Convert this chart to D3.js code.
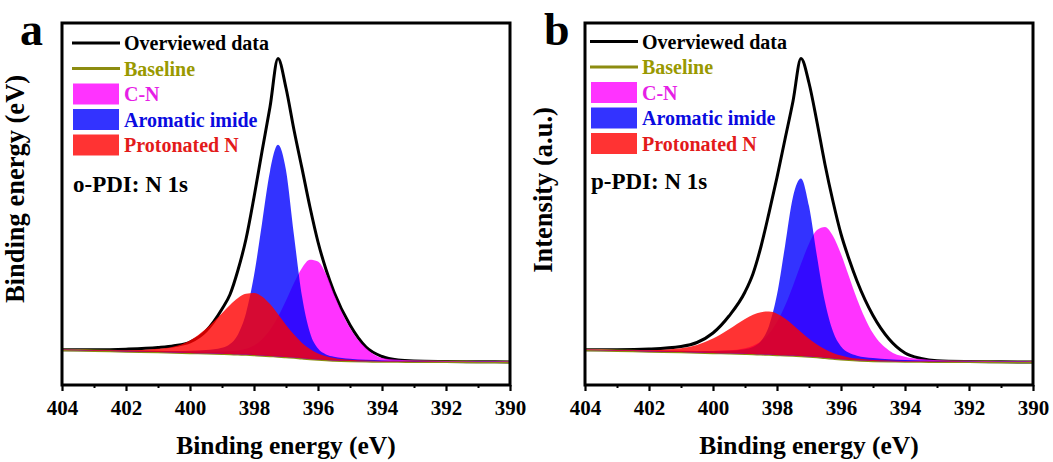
<!DOCTYPE html>
<html>
<head>
<meta charset="utf-8">
<script src="https://cdn.jsdelivr.net/npm/d3@7"></script>
<style>
  body { margin: 0; background: #fff; }
  svg text { font-family: "Liberation Serif", "Times New Roman", serif; font-weight: bold; }
</style>
</head>
<body>
<div id="chart"></div>
<script>

// Binding energy grid (eV), shared by every series
var energy = [404, 403, 402, 401, 400.5, 400, 399.5, 399, 398.75, 398.5, 398.25, 398, 397.75, 397.5,
              397.25, 397, 396.75, 396.5, 396.25, 396, 395.75, 395.5, 395, 394.5, 394, 393.5, 393, 392, 391, 390];

// o-PDI (panel a), intensity in a.u.
var envelopeA = [35.3, 35.2, 35.8, 37.5, 39.3, 43, 54, 76, 90.5, 115, 146, 187.8, 233.4, 278,
                 326.5, 297, 255, 216.6, 177.7, 143, 115.5, 93, 60, 38, 28.5, 25, 24, 23.5, 23.2, 23.1];
var baselineA = [35, 34.3, 33.6, 32.9, 32.5, 32.1, 31.7, 31.3, 31, 30.7, 30.4, 30, 29.6, 29.1,
                 28.6, 28, 27.4, 26.7, 26, 25.4, 24.9, 24.5, 24, 23.7, 23.5, 23.4, 23.3, 23.2, 23.1, 23];
// fitted components, height above the baseline
var cnA     = [0.3, 0.4, 0.5, 0.7, 0.9, 1.1, 1.5, 2.1, 2.7, 3.8, 5.9, 9.6, 16, 25.8,
               39.6, 56.5, 74.6, 90.3, 99.2, 98.1, 86, 66, 33, 13, 3.5, 1.8, 1.2, 0.8, 0.6, 0.5];
var imideA  = [0.4, 0.5, 0.8, 1.2, 1.6, 2.2, 3.2, 5.9, 10, 19.9, 41.4, 79.4, 132, 184.7,
               211.6, 186.7, 122, 62, 26.3, 11, 5.7, 3.8, 2.3, 1.5, 1.1, 0.9, 0.7, 0.4, 0.3, 0.3];
var protA   = [0.5, 0.7, 1.1, 3.3, 6, 12.5, 24.5, 40.5, 49, 56.3, 60.8, 62, 58.9, 51.8,
               42.2, 32.1, 23, 15.4, 9.9, 6.1, 3.8, 2.4, 1.2, 0.8, 0.6, 0.5, 0.4, 0.3, 0.2, 0.2];

// p-PDI (panel b)
var envelopeB = [35.2, 35.3, 36, 38.5, 42.5, 52, 69, 93, 111.3, 138.5, 172.1, 207.7, 245.8, 283.8,
                 326.5, 302, 262.8, 220.5, 183.5, 151, 126, 104, 69.5, 46, 32, 26.5, 24.2, 23.4, 23.15, 23.05];
var baselineB = [35, 34.3, 33.6, 32.9, 32.5, 32.1, 31.7, 31.3, 31, 30.7, 30.4, 30.1, 29.8, 29.4,
                 29, 28.5, 27.9, 27.2, 26.5, 25.8, 25.2, 24.7, 24.1, 23.8, 23.5, 23.4, 23.3, 23.2, 23.1, 23];
var cnB     = [0.5, 0.6, 0.9, 1.3, 1.6, 2, 2.9, 5.4, 8.2, 13, 20.9, 32.9, 49.4, 69.9,
               92.2, 112.8, 127.1, 130.8, 122.5, 105.1, 83.3, 61.3, 27.6, 10.8, 4.7, 2.5, 1.5, 1, 0.7, 0.5];
var imideB  = [0.3, 0.4, 0.6, 1, 1.3, 1.8, 2.7, 4.5, 6.9, 13.2, 28.6, 60.3, 109, 158.8,
               177.6, 150.4, 100.7, 55.7, 27, 12.8, 7, 4.6, 2.8, 1.9, 1.4, 1.1, 0.8, 0.6, 0.4, 0.3];
var protB   = [0.5, 0.7, 1.2, 3.8, 7.6, 14.4, 24.1, 34.8, 39.2, 42.1, 43, 41.2, 36.7, 30.6,
               24, 17.8, 12.6, 8.5, 5.6, 3.7, 2.4, 1.7, 1, 0.7, 0.6, 0.5, 0.4, 0.3, 0.2, 0.2];

var legendLabels = ["Overviewed data", "Baseline", "C-N", "Aromatic imide", "Protonated N"];
var majorTicks = [404, 402, 400, 398, 396, 394, 392, 390];
var minorTicks = [403, 401, 399, 397, 395, 393, 391];
var xTitle = "Binding energy (eV)";

var fills = ["#ff00ff", "#0000ff", "#ff0000"],
    legendText = ["#000000", "#999900", "#e61ee6", "#0a0ae0", "#e31a1a"],
    baseColor = "#8c8c10";

var width = 1053, height = 462,
    plotTop = 23, plotBottom = 385;

var panels = [
  { letter: "a", left: 62, right: 510, env: envelopeA, base: baselineA, comps: [cnA, imideA, protA],
    ytitle: "Binding energy (eV)", ytx: 24, yty: 189, note: "o-PDI: N 1s", noteY: 192,
    legX: 72, legY: 50, letterX: 20 },
  { letter: "b", left: 585, right: 1033, env: envelopeB, base: baselineB, comps: [cnB, imideB, protB],
    ytitle: "Intensity (a.u.)", ytx: 552, yty: 190, note: "p-PDI: N 1s", noteY: 188.5,
    legX: 590, legY: 48.5, letterX: 544 }
];

var svg = d3.select("#chart").append("svg")
    .attr("width", width)
    .attr("height", height);

panels.forEach(function(p, k) {
    var g = svg.append("g");

    var x = d3.scaleLinear().domain([404, 390]).range([p.left, p.right]);
    var y = d3.scaleLinear().domain([0, 362]).range([plotBottom, plotTop]);

    var clipId = "clip" + k;
    svg.append("clipPath").attr("id", clipId)
      .append("rect")
        .attr("x", p.left).attr("y", plotTop)
        .attr("width", p.right - p.left).attr("height", plotBottom - plotTop);

    var plot = g.append("g").attr("clip-path", "url(#" + clipId + ")");

    // envelope (drawn under the fills)
    var line = d3.line()
        .x(function(d, i) { return x(energy[i]); })
        .y(function(d) { return y(d); })
        .curve(d3.curveMonotoneX);

    plot.append("path")
        .datum(p.env)
        .attr("d", line)
        .attr("fill", "none")
        .attr("stroke", "#000")
        .attr("stroke-width", 3)
        .attr("stroke-linejoin", "round");

    plot.append("path")
        .datum(p.base)
        .attr("d", line)
        .attr("fill", "none")
        .attr("stroke", baseColor)
        .attr("stroke-width", 2.5);

    // fitted components
    p.comps.forEach(function(c, j) {
        var area = d3.area()
            .x(function(d, i) { return x(energy[i]); })
            .y0(function(d, i) { return y(p.base[i]); })
            .y1(function(d, i) { return y(p.base[i] + d); })
            .curve(d3.curveMonotoneX);
        plot.append("path")
            .datum(c)
            .attr("d", area)
            .attr("fill", fills[j])
            .attr("fill-opacity", 0.8);
    });

    // axis
    var gx = g.append("g")
        .attr("transform", "translate(0," + plotBottom + ")")
        .call(d3.axisBottom(x).tickValues(majorTicks).tickSize(6).tickPadding(9).tickFormat(d3.format("d")));
    gx.select(".domain").remove();
    gx.selectAll("line").attr("stroke", "#000").attr("stroke-width", 2.2);
    gx.selectAll("text").attr("fill", "#000").style("font-size", "21px");

    var gm = g.append("g")
        .attr("transform", "translate(0," + plotBottom + ")")
        .call(d3.axisBottom(x).tickValues(minorTicks).tickSize(3).tickFormat(""));
    gm.select(".domain").remove();
    gm.selectAll("line").attr("stroke", "#000").attr("stroke-width", 2);

    // frame
    g.append("rect")
        .attr("x", p.left).attr("y", plotTop)
        .attr("width", p.right - p.left).attr("height", plotBottom - plotTop)
        .attr("fill", "none")
        .attr("stroke", "#000")
        .attr("stroke-width", 3);

    // titles
    g.append("text")
        .attr("x", (p.left + p.right) / 2).attr("y", 454)
        .attr("text-anchor", "middle")
        .style("font-size", "25.5px")
        .text(xTitle);

    g.append("text")
        .attr("transform", "translate(" + p.ytx + "," + p.yty + ") rotate(-90)")
        .attr("text-anchor", "middle")
        .style("font-size", "26.5px")
        .text(p.ytitle);

    g.append("text")
        .attr("x", p.letterX).attr("y", 45)
        .style("font-size", "46px")
        .text(p.letter);

    g.append("text")
        .attr("x", p.legX + 1).attr("y", p.noteY)
        .style("font-size", "23px")
        .text(p.note);

    // legend
    var leg = g.append("g");
    legendLabels.forEach(function(lab, i) {
        var ty = p.legY + i * 25.5;
        if (i < 2) {
            leg.append("line")
                .attr("x1", p.legX).attr("x2", p.legX + 48)
                .attr("y1", ty - 7).attr("y2", ty - 7)
                .attr("stroke", i == 0 ? "#000" : baseColor)
                .attr("stroke-width", 3);
        } else {
            leg.append("rect")
                .attr("x", p.legX + 1).attr("y", ty - 17.5)
                .attr("width", 46).attr("height", 21)
                .attr("fill", fills[i - 2])
                .attr("fill-opacity", 0.8);
        }
        leg.append("text")
            .attr("x", p.legX + 52).attr("y", ty)
            .attr("fill", legendText[i])
            .style("font-size", "20px")
            .text(lab);
    });
});

</script>
</body>
</html>
